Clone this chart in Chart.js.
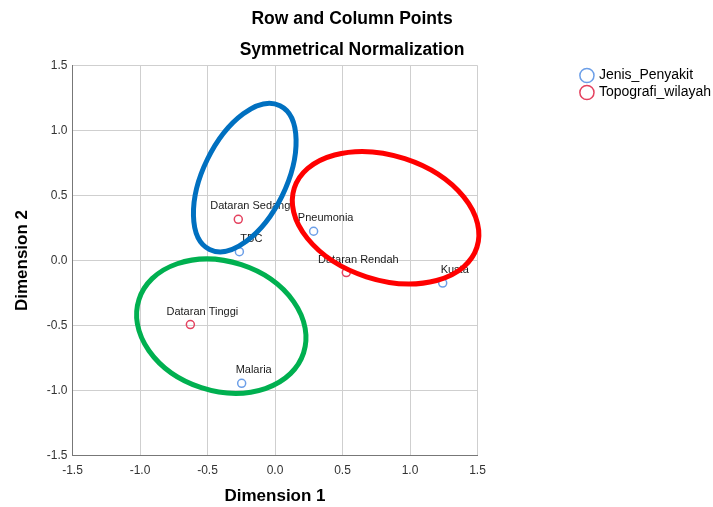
<!DOCTYPE html>
<html>
<head>
<meta charset="utf-8">
<script src="https://cdn.jsdelivr.net/npm/chart.js@4/dist/chart.umd.min.js"></script>
<style>
html,body{margin:0;padding:0;background:#fff;}
#wrap{width:713px;height:507px;position:relative;}
</style>
</head>
<body>
<div id="wrap"><canvas id="c"></canvas></div>
<script>
// ---- data ----
const seriesNames = ['Jenis_Penyakit', 'Topografi_wilayah'];
const diseaseLabels = ['TBC', 'Pneumonia', 'Kusta', 'Malaria'];
const diseaseDim1 = [-0.264, 0.286, 1.242, -0.247];
const diseaseDim2 = [0.068, 0.225, -0.174, -0.945];
const regionLabels = ['Dataran Sedang', 'Dataran Rendah', 'Dataran Tinggi'];
const regionDim1 = [-0.272, 0.528, -0.627];
const regionDim2 = [0.317, -0.093, -0.493];
const axisTicks = [-1.5, -1.0, -0.5, 0.0, 0.5, 1.0, 1.5];
const axisTitles = ['Dimension 1', 'Dimension 2'];
const chartTitles = ['Row and Column Points', 'Symmetrical Normalization'];
// hand-drawn group ellipses (data units)
const groupCenterDim1 = [-0.224, 0.819, -0.398];
const groupCenterDim2 = [0.638, 0.329, -0.505];
const groupRadiusMajor = [0.593, 0.711, 0.641];
const groupRadiusMinor = [0.308, 0.460, 0.479];
const groupTiltDeg = [-63.9, 18, 18];

// ---- styles ----
const FONT = "'Liberation Sans', Arial, Helvetica, sans-serif";
Chart.defaults.font.family = FONT;
const ellipseColors = ['#0070C0', '#FF0000', '#00B050'];

function toPoints(xs, ys) { return xs.map((x, i) => ({ x: x, y: ys[i] })); }

const pointLabelPlugin = {
  id: 'pointLabels',
  afterDatasetsDraw(chart) {
    const ctx = chart.ctx;
    const labelSets = [diseaseLabels, regionLabels];
    ctx.save();
    ctx.font = '11px ' + FONT;
    ctx.fillStyle = '#1a1a1a';
    ctx.textAlign = 'center';
    ctx.textBaseline = 'middle';
    chart.data.datasets.forEach((ds, di) => {
      const meta = chart.getDatasetMeta(di);
      meta.data.forEach((pt, i) => {
        ctx.fillText(labelSets[di][i], pt.x + 12, pt.y - 13);
      });
    });
    ctx.restore();
  }
};

const ellipsePlugin = {
  id: 'groupEllipses',
  afterDraw(chart) {
    const ctx = chart.ctx;
    const xs = chart.scales.x, ys = chart.scales.y;
    const unit = Math.abs(xs.getPixelForValue(1) - xs.getPixelForValue(0));
    ctx.save();
    groupCenterDim1.forEach((cx, i) => {
      ctx.beginPath();
      ctx.ellipse(xs.getPixelForValue(cx), ys.getPixelForValue(groupCenterDim2[i]),
        groupRadiusMajor[i] * unit, groupRadiusMinor[i] * unit,
        groupTiltDeg[i] * Math.PI / 180, 0, Math.PI * 2);
      ctx.lineWidth = 5;
      ctx.strokeStyle = ellipseColors[i];
      ctx.stroke();
    });
    ctx.restore();
  }
};

// shift the title block slightly left (title centred at ~352px as in the original)
const titleShiftPlugin = {
  id: 'titleShift',
  afterLayout(chart) {
    if (chart.titleBlock) { chart.titleBlock.right -= 17; }
  }
};

new Chart(document.getElementById('c'), {
  type: 'scatter',
  data: {
    datasets: [
      {
        label: seriesNames[0],
        data: toPoints(diseaseDim1, diseaseDim2),
        pointStyle: 'circle',
        pointRadius: 4,
        borderWidth: 1.5,
        borderColor: '#6C9FE8',
        backgroundColor: 'rgba(0,0,0,0)'
      },
      {
        label: seriesNames[1],
        data: toPoints(regionDim1, regionDim2),
        pointStyle: 'circle',
        pointRadius: 4,
        borderWidth: 1.5,
        borderColor: '#E4425F',
        backgroundColor: 'rgba(0,0,0,0)'
      }
    ]
  },
  options: {
    responsive: true,
    maintainAspectRatio: false,
    animation: false,
    layout: { padding: { left: 0, top: 0, bottom: 0, right: -8 } },
    plugins: {
      title: {
        display: true,
        text: chartTitles,
        color: '#000',
        font: { size: 17.5, weight: 'bold', lineHeight: 31 / 17.5 },
        padding: { top: 3.5, bottom: 0 }
      },
      legend: {
        position: 'right',
        align: 'start',
        fullSize: false,
        maxWidth: 220,
        labels: {
          usePointStyle: true,
          pointStyle: 'circle',
          boxWidth: 10,
          boxHeight: 10,
          padding: 3,
          color: '#000',
          font: { size: 14 }
        }
      },
      tooltip: { enabled: false }
    },
    scales: {
      x: {
        type: 'linear',
        min: axisTicks[0],
        max: axisTicks[axisTicks.length - 1],
        afterBuildTicks(s) { s.ticks = axisTicks.map(v => ({ value: v })); },
        afterFit(s) { s.height = 51.5; },
        ticks: { color: '#333', font: { size: 12 }, padding: 8, callback: v => Number(v).toFixed(1) },
        grid: { color: '#cfcfcf', drawTicks: false },
        border: { color: '#777' },
        title: { display: true, text: axisTitles[0], color: '#000', font: { size: 17, weight: 'bold' }, padding: 0 }
      },
      y: {
        type: 'linear',
        min: axisTicks[0],
        max: axisTicks[axisTicks.length - 1],
        afterBuildTicks(s) { s.ticks = axisTicks.map(v => ({ value: v })); },
        afterFit(s) { s.width = 72.5; },
        ticks: { color: '#333', font: { size: 12 }, padding: 5, callback: v => Number(v).toFixed(1) },
        grid: { color: '#cfcfcf', drawTicks: false },
        border: { color: '#777' },
        title: { display: true, text: axisTitles[1], color: '#000', font: { size: 17, weight: 'bold' }, padding: { top: 12, bottom: 0 } }
      },
      yRight: {
        axis: 'y',
        type: 'linear',
        position: 'right',
        grid: { display: false, drawTicks: false },
        border: { display: false },
        ticks: { display: false },
        afterFit(s) { s.width = 101.4; }
      }
    }
  },
  plugins: [pointLabelPlugin, ellipsePlugin, titleShiftPlugin]
});
</script>
</body>
</html>
